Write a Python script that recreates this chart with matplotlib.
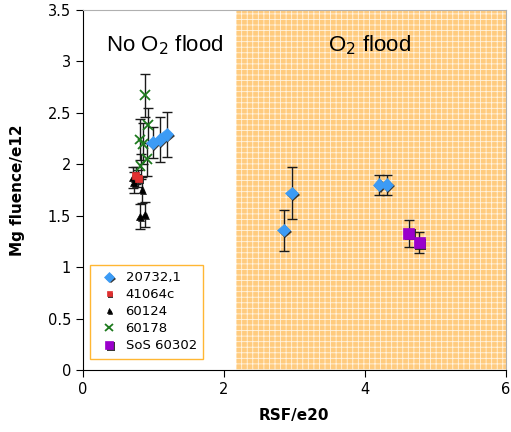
import numpy as np
import matplotlib
matplotlib.use("Agg")
import matplotlib.pyplot as plt
import matplotlib.patheffects as pe

plt.rcParams['font.family'] = ['DejaVu Sans']
plt.rcParams['hatch.linewidth'] = 0.6

# data (x: RSF/e20, y: Mg fluence/e12, e: error)
x_20732 = [0.99, 1.09, 1.19, 2.85, 2.96, 4.20, 4.31]
y_20732 = [2.21, 2.24, 2.29, 1.36, 1.72, 1.80, 1.80]
e_20732 = [0.15, 0.22, 0.22, 0.20, 0.25, 0.10, 0.10]

x_41064 = [0.75, 0.79]
y_41064 = [1.89, 1.86]
e_41064 = [0.08, 0.08]

x_60124 = [0.71, 0.72, 0.84, 0.81, 0.88]
y_60124 = [1.87, 1.82, 1.75, 1.49, 1.51]
e_60124 = [0.10, 0.10, 0.13, 0.12, 0.12]

x_60178 = [0.88, 0.81, 0.85, 0.92, 0.82, 0.91]
y_60178 = [2.67, 2.24, 2.20, 2.38, 1.98, 2.05]
e_60178 = [0.21, 0.20, 0.20, 0.17, 0.12, 0.16]

x_60302 = [4.62, 4.77]
y_60302 = [1.33, 1.24]
e_60302 = [0.13, 0.10]

flood_start = 2.17

fig = plt.figure(figsize=(5.11, 4.32), dpi=100)
ax = fig.add_axes([0.162, 0.1435, 0.828, 0.8335])

# O2 flood region
ax.axvspan(flood_start, 6, ymin=0, ymax=1, facecolor='#FFCB7E',
           edgecolor='#FFF4E2', hatch='+++', linewidth=0, zorder=0)

shadow = [pe.SimplePatchShadow(offset=(1.2, -1.2), shadow_rgbFace='#222222', alpha=0.9), pe.Normal()]

def series(x, y, e, marker, color, ms, label, mew=0.5):
    ax.errorbar(x, y, yerr=e, fmt='none', ecolor='#1a1a1a', elinewidth=1.0,
                capsize=3.5, capthick=1.0, zorder=2)
    ax.plot(x, y, linestyle='none', marker=marker, color=color, ms=ms,
            mec=color, mew=mew, label=label, zorder=3, path_effects=shadow)

series(x_60124, y_60124, e_60124, '^', 'black', 5, '60124')
series(x_41064, y_41064, e_41064, 's', '#E03030', 5, '41064c')
series(x_60178, y_60178, e_60178, 'x', '#1E7A1E', 7, '60178', mew=1.3)
series(x_20732, y_20732, e_20732, 'D', '#3C9BF5', 6.5, '20732,1')
series(x_60302, y_60302, e_60302, 's', '#9A00CC', 8, 'SoS 60302')

ax.text(1.16, 3.16, 'No O$_2$ flood', ha='center', va='center', fontsize=16,
        family='Liberation Sans')
ax.text(4.07, 3.16, 'O$_2$ flood', ha='center', va='center', fontsize=16,
        family='Liberation Sans')

h, l = ax.get_legend_handles_labels()
order = ['20732,1', '41064c', '60124', '60178', 'SoS 60302']
h = [h[l.index(o)] for o in order]
leg = ax.legend(h, order, loc='upper left', bbox_to_anchor=(0.017, 0.292),
                borderaxespad=0, frameon=True, fancybox=False, fontsize=9.5,
                handletextpad=0.3, handlelength=1.9, labelspacing=0.3,
                borderpad=0.5, markerscale=0.75)
leg.get_frame().set_edgecolor('#FFA500')
leg.get_frame().set_linewidth(1.0)

ax.set_xlim(0, 6)
ax.set_ylim(0, 3.5)
ax.set_xticks([0, 2, 4, 6])
ax.set_yticks(np.arange(0, 3.51, 0.5))
ax.set_yticklabels(['0', '0.5', '1', '1.5', '2', '2.5', '3', '3.5'])
ax.tick_params(direction='out', length=5, labelsize=10.5)
for s in ['top', 'right']:
    ax.spines[s].set_color('#b0b0b0')
ax.set_xlabel('RSF/e20', fontsize=11, fontweight='bold', labelpad=8)
ax.set_ylabel('Mg fluence/e12', fontsize=11, fontweight='bold', labelpad=16)

fig.savefig('out.png', dpi=100)
